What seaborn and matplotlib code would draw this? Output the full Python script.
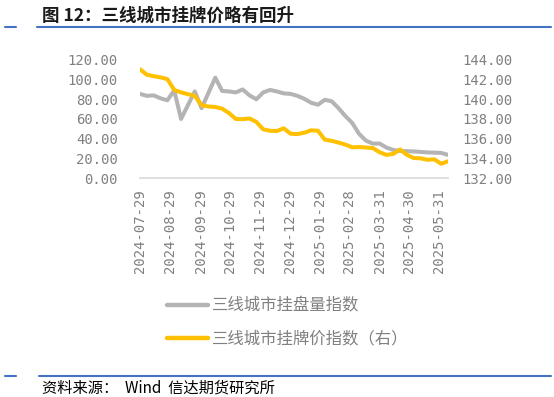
import pandas as pd
import matplotlib.pyplot as plt
from matplotlib.lines import Line2D
import seaborn as sns

dates = [
    "2024-07-29", "2024-08-05", "2024-08-12", "2024-08-19", "2024-08-26",
    "2024-09-02", "2024-09-09", "2024-09-16", "2024-09-23", "2024-09-30",
    "2024-10-07", "2024-10-14", "2024-10-21", "2024-10-28", "2024-11-04",
    "2024-11-11", "2024-11-18", "2024-11-25", "2024-12-02", "2024-12-09",
    "2024-12-16", "2024-12-23", "2024-12-30", "2025-01-06", "2025-01-13",
    "2025-01-20", "2025-01-27", "2025-02-03", "2025-02-10", "2025-02-17",
    "2025-02-24", "2025-03-03", "2025-03-10", "2025-03-17", "2025-03-24",
    "2025-03-31", "2025-04-07", "2025-04-14", "2025-04-21", "2025-04-28",
    "2025-05-05", "2025-05-12", "2025-05-19", "2025-05-26", "2025-06-02",
    "2025-06-09",
]
listing_volume = [
    85.5, 83.5, 84, 81, 79, 89, 60, 74, 88, 71,
    86.5, 102, 88.5, 88, 87, 90, 84, 80, 87, 89.5,
    88, 86, 85.5, 83.5, 80.5, 76.5, 74.5, 79.5, 78, 71,
    63, 56, 45, 38, 35, 35, 31, 28.5, 27.5, 27.3,
    27, 26.5, 26, 25.8, 25.5, 23.5,
]
listing_price = [
    143.05, 142.5, 142.35, 142.23, 142.05, 140.95, 140.7, 140.52, 140.35, 139.4,
    139.27, 139.22, 139.05, 138.6, 138.0, 137.98, 138.05, 137.7, 136.95, 136.8,
    136.78, 137.05, 136.5, 136.47, 136.6, 136.85, 136.8, 135.9, 135.78, 135.6,
    135.4, 135.12, 135.15, 135.1, 135.05, 134.62, 134.35, 134.45, 134.9, 134.35,
    134.03, 134.0, 133.85, 133.9, 133.45, 133.7,
]
tick_dates = [
    "2024-07-29", "2024-08-29", "2024-09-29", "2024-10-29", "2024-11-29",
    "2024-12-29", "2025-01-29", "2025-02-28", "2025-03-31", "2025-04-30",
    "2025-05-31",
]
left_ticks = [0, 20, 40, 60, 80, 100, 120]
right_ticks = [132, 134, 136, 138, 140, 142, 144]

label_volume = "三线城市挂盘量指数"
label_price = "三线城市挂牌价指数（右）"

df = pd.DataFrame({
    "date": pd.to_datetime(dates),
    "volume": listing_volume,
    "price": listing_price,
})

sns.set_style("white")
plt.rcParams["font.family"] = ["Noto Sans CJK SC", "DejaVu Sans"]

GRAY = "#b4b4b4"
GOLD = "#ffc000"
TICK_COLOR = "#808080"
BLUE = "#4472c4"

fig = plt.figure(figsize=(5.54, 3.97), dpi=100)
ax = fig.add_axes([0.2527, 0.5516, 0.556, 0.2974])
ax2 = ax.twinx()

sns.lineplot(data=df, x="date", y="volume", ax=ax, color=GRAY, linewidth=2.9, legend=False)
sns.lineplot(data=df, x="date", y="price", ax=ax2, color=GOLD, linewidth=2.9, legend=False)

ax.set_xlim(df["date"].iloc[0], df["date"].iloc[-1])
ax.set_ylim(0, 120)
ax2.set_ylim(132, 144)
ax.set_yticks(left_ticks)
ax2.set_yticks(right_ticks)
ax.set_yticklabels([f"{v:.2f}" for v in left_ticks])
ax2.set_yticklabels([f"{v:.2f}" for v in right_ticks])
ax.set_xticks(pd.to_datetime(tick_dates))
ax.set_xticklabels(tick_dates, rotation=90)
ax.set_xlabel("")
ax.set_ylabel("")
ax2.set_ylabel("")

for a in (ax, ax2):
    for s in a.spines.values():
        s.set_visible(False)
ax.spines["bottom"].set_visible(True)
ax.spines["bottom"].set_color("#d9d9d9")
ax.spines["bottom"].set_linewidth(1.2)

mono = "DejaVu Sans Mono"
ax.tick_params(axis="y", length=0, pad=16, labelsize=10, labelcolor=TICK_COLOR)
ax2.tick_params(axis="y", length=0, pad=10, labelsize=10, labelcolor=TICK_COLOR)
ax.tick_params(axis="x", length=0, pad=8, labelsize=10, labelcolor=TICK_COLOR)
for lab in ax.get_xticklabels() + ax.get_yticklabels() + ax2.get_yticklabels():
    lab.set_fontfamily(mono)

# legend below the plot
handles = [
    Line2D([], [], color=GRAY, linewidth=3.2, solid_capstyle="round"),
    Line2D([], [], color=GOLD, linewidth=3.2, solid_capstyle="round"),
]
fig.legend(handles, [label_volume, label_price], loc="upper left",
           bbox_to_anchor=(0.301, 0.250), frameon=False,
           prop={"size": 11.8, "weight": "light"},
           labelcolor="#808080", handlelength=2.5, handletextpad=0.25,
           labelspacing=0.95, borderpad=0, borderaxespad=0)

# header and footer
fig.text(0.076, 0.96, "图 12：三线城市挂牌价略有回升", fontsize=12.6,
         fontweight="bold", color="#1a1a1a", va="center", ha="left")
fig.add_artist(Line2D([0.009, 0.029], [0.933, 0.933], color=BLUE, linewidth=1.5))
fig.add_artist(Line2D([0.067, 0.995], [0.933, 0.933], color=BLUE, linewidth=1.5))
fig.add_artist(Line2D([0.009, 0.029], [0.053, 0.053], color=BLUE, linewidth=1.5))
fig.add_artist(Line2D([0.070, 0.995], [0.053, 0.053], color=BLUE, linewidth=1.5))
fig.text(0.076, 0.023, "资料来源：  Wind  信达期货研究所", fontsize=11,
         style="italic", color="black", va="center", ha="left")

fig.savefig("out.png", dpi=100)
